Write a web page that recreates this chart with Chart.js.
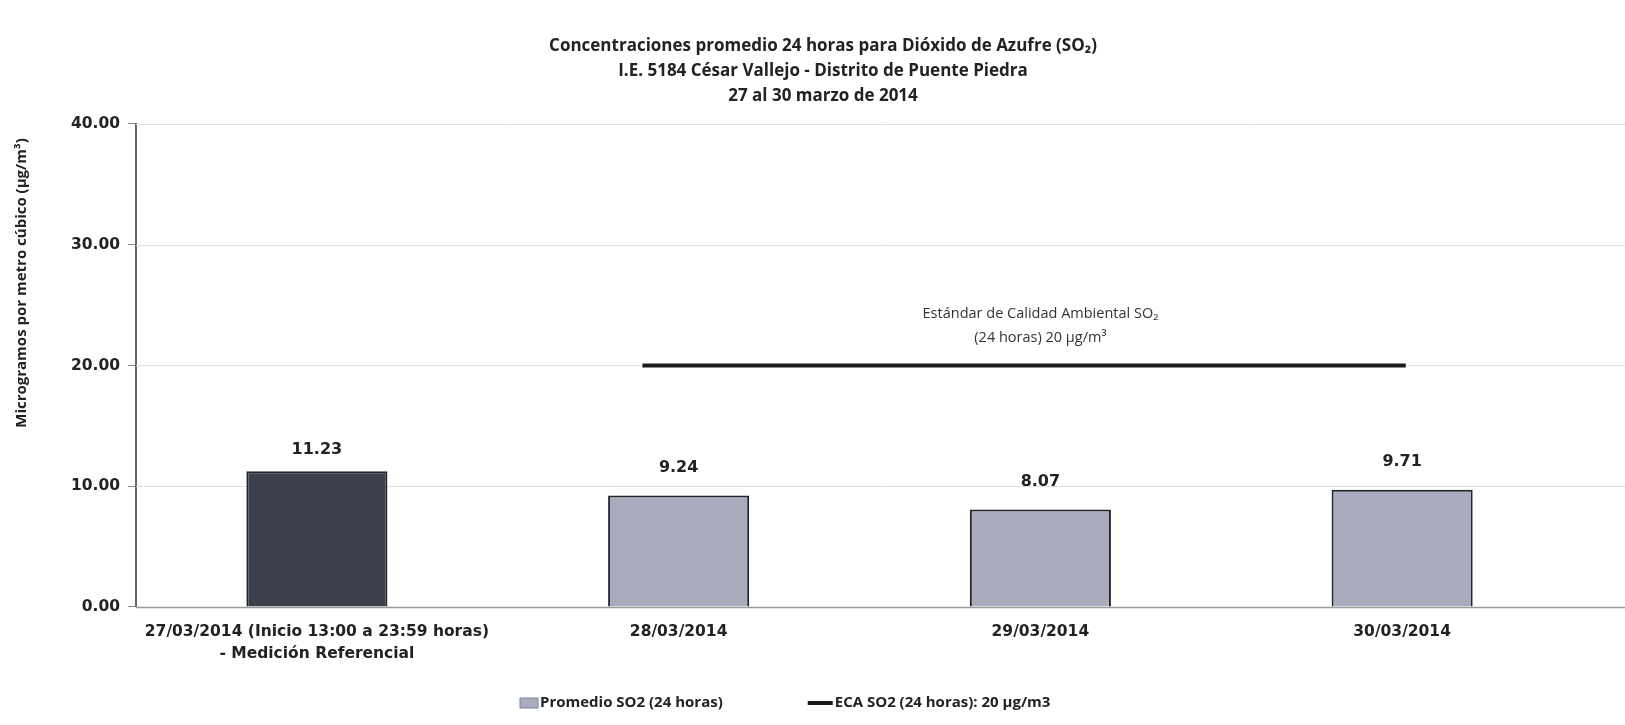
<!DOCTYPE html>
<html>
<head>
<meta charset="utf-8">
<script src="https://cdn.jsdelivr.net/npm/chart.js@4/dist/chart.umd.min.js"></script>
<style>
  body { margin: 0; background: #fff; }
  #wrap { width: 1625px; height: 725px; }
</style>
</head>
<body>
<div id="wrap"><canvas id="myChart"></canvas></div>
<script>
// datos
var fechas = [
    ['27/03/2014 (Inicio 13:00 a 23:59 horas)', '- Medición Referencial'],
    '28/03/2014',
    '29/03/2014',
    '30/03/2014'
];
var promedioSO2 = [11.23, 9.24, 8.07, 9.71];
var ecaX = [0.9, 3.01];
var ecaValor = [20, 20];
var yTicks = [0, 10, 20, 30, 40];

var coresBarras = ['#3c404c', '#a9acbe', '#a9acbe', '#a9acbe'];

// lineas de la grilla hasta el borde derecho
const gradePlugin = {
    id: 'grade',
    beforeDatasetsDraw(chart) {
        const ctx = chart.ctx;
        const area = chart.chartArea;
        const ys = chart.scales.y;
        ctx.save();
        ctx.lineWidth = 1;
        ctx.strokeStyle = '#e0e0e0';
        for (var i = 1; i < yTicks.length; i++) {
            var py = Math.round(ys.getPixelForValue(yTicks[i])) + 0.5;
            ctx.beginPath();
            ctx.moveTo(area.left, py);
            ctx.lineTo(chart.width, py);
            ctx.stroke();
        }
        var pb = Math.round(area.bottom) + 0.5;
        ctx.strokeStyle = '#9a9a9a';
        ctx.lineWidth = 1.5;
        ctx.beginPath();
        ctx.moveTo(area.left, pb);
        ctx.lineTo(chart.width, pb);
        ctx.stroke();
        ctx.restore();
    }
};

// etiquetas encima de las barras + texto del estandar + leyenda + titulo eje y
const etiquetasPlugin = {
    id: 'etiquetas',
    afterDatasetsDraw(chart) {
        const ctx = chart.ctx;
        const meta = chart.getDatasetMeta(0);
        ctx.save();
        ctx.fillStyle = '#222';
        ctx.font = 'bold 16px "DejaVu Sans"';
        ctx.textAlign = 'center';
        ctx.textBaseline = 'middle';
        for (var i = 0; i < meta.data.length; i++) {
            var bar = meta.data[i];
            var off = i == 0 ? 22 : 28;
            ctx.fillText(promedioSO2[i].toFixed(2), bar.x, bar.y - off);
        }
        // texto del estandar
        const xs = chart.scales.x2;
        const ys = chart.scales.y;
        var cx = xs.getPixelForValue(2.0);
        var cy = ys.getPixelForValue(20);
        ctx.font = '14.5px "Open Sans"';
        ctx.fillStyle = '#333';
        ctx.fillText('Estándar de Calidad Ambiental SO₂', cx, cy - 52);
        ctx.fillText('(24 horas) 20 µg/m³', cx, cy - 28);

        // titulo del eje y
        ctx.save();
        ctx.translate(22, 283);
        ctx.rotate(-Math.PI / 2);
        ctx.font = 'bold 15px "Open Sans"';
        ctx.fillStyle = '#222';
        ctx.fillText('Microgramos por metro cúbico (µg/m³)', 0, 0);
        ctx.restore();

        // leyenda
        ctx.font = 'bold 15px "Open Sans"';
        ctx.textAlign = 'left';
        var t1 = chart.data.datasets[0].label;
        var t2 = chart.data.datasets[1].label;
        var w1 = ctx.measureText(t1).width;
        var x0 = chart.width * 0.32;
        var ly = chart.height - 22;
        ctx.fillStyle = '#a9acbe';
        ctx.fillRect(x0, ly - 5, 18, 10);
        ctx.strokeStyle = '#7f849c';
        ctx.lineWidth = 1;
        ctx.strokeRect(x0, ly - 5, 18, 10);
        ctx.fillStyle = '#222';
        ctx.fillText(t1, x0 + 20, ly);
        var x1 = x0 + 20 + w1 + 85;
        ctx.strokeStyle = '#1a1a1a';
        ctx.lineWidth = 4;
        ctx.beginPath();
        ctx.moveTo(x1, ly);
        ctx.lineTo(x1 + 25, ly);
        ctx.stroke();
        ctx.fillText(t2, x1 + 27, ly);
        ctx.restore();
    }
};

const data = {
    labels: fechas,
    datasets: [
        {
            label: 'Promedio SO2 (24 horas)',
            type: 'bar',
            data: promedioSO2,
            backgroundColor: coresBarras,
            borderColor: '#23232c',
            borderWidth: 2,
            barPercentage: 0.39,
            categoryPercentage: 1.0,
            grouped: false,
            xAxisID: 'x',
            order: 2
        },
        {
            label: 'ECA SO2 (24 horas): 20 µg/m3',
            type: 'line',
            data: ecaX.map((x, i) => ({ x: x, y: ecaValor[i] })),
            borderColor: '#1a1a1a',
            backgroundColor: '#1a1a1a',
            borderWidth: 4,
            pointRadius: 0,
            xAxisID: 'x2',
            order: 1
        }
    ]
};

const config = {
    type: 'bar',
    data: data,
    options: {
        responsive: true,
        maintainAspectRatio: false,
        animation: false,
        layout: {
            padding: { left: 63, right: 42, top: 10, bottom: 46 }
        },
        plugins: {
            title: {
                display: true,
                text: [
                    'Concentraciones promedio 24 horas para Dióxido de Azufre (SO₂)',
                    'I.E. 5184 César Vallejo - Distrito de Puente Piedra',
                    '27 al 30 marzo de 2014'
                ],
                color: '#222',
                font: { family: '"Open Sans"', size: 17, weight: 'bold', lineHeight: 1.47 },
                padding: { top: 24, bottom: 15 }
            },
            legend: { display: false },
            tooltip: { enabled: false }
        },
        scales: {
            x: {
                type: 'category',
                offset: true,
                grid: { display: false, drawTicks: false },
                border: { display: false },
                ticks: {
                    color: '#222',
                    font: { family: '"DejaVu Sans"', size: 15.5, weight: 'bold', lineHeight: 1.42 },
                    padding: 14,
                    maxRotation: 0
                }
            },
            x2: {
                type: 'linear',
                display: false,
                offset: false,
                min: -0.5,
                max: 3.5
            },
            y: {
                min: 0,
                max: 40,
                afterBuildTicks: function (axis) {
                    axis.ticks = yTicks.map(v => ({ value: v }));
                },
                grid: {
                    drawOnChartArea: false,
                    tickLength: 8,
                    tickColor: '#888'
                },
                border: { color: '#666', width: 2 },
                ticks: {
                    color: '#222',
                    font: { family: '"DejaVu Sans"', size: 15.5, weight: 'bold' },
                    padding: 8,
                    callback: v => v.toFixed(2)
                }
            }
        }
    },
    plugins: [gradePlugin, etiquetasPlugin]
};

const myChart = new Chart(document.getElementById('myChart'), config);
</script>
</body>
</html>
